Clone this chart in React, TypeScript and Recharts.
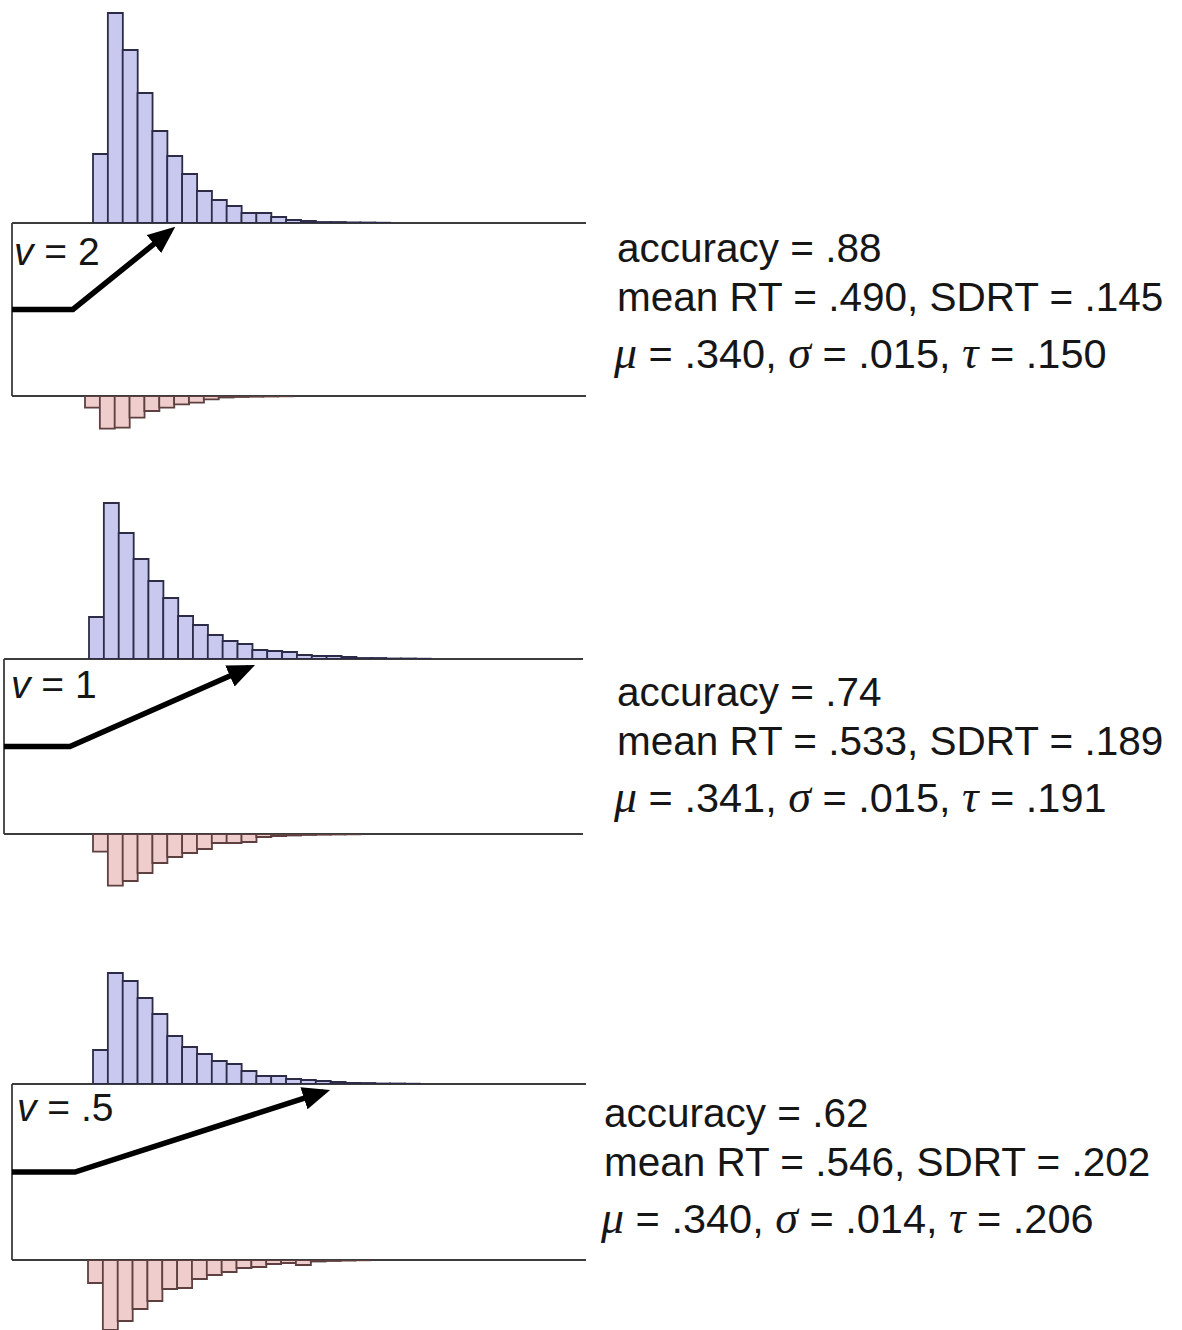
import React from 'react';
import { BarChart, Bar, XAxis, YAxis, LineChart, Line, ReferenceLine } from 'recharts';

// RT histograms, bin heights (upper = correct, lower = error)
const upper1 = [69, 210, 173, 130, 92, 67, 49, 32, 23, 17, 10, 10, 6, 3, 2, 1, 1, 0.5, 0.5, 0.3];
const lower1 = [11.7, 32.7, 31.7, 21.7, 15, 11.7, 8.3, 6.7, 3.3, 1.5, 1, 0.7, 0.5, 0.3];
const upper2 = [42, 156, 126, 100, 78, 61, 43, 34, 24, 18, 15, 9, 8, 7, 4, 3, 3, 2, 1, 1, 0.5, 0.5, 0.3];
const lower2 = [17.7, 51.7, 47, 39, 29, 23, 19, 15, 9, 9, 8, 3, 2, 1.5, 1, 0.7, 0.5, 0.3];
const upper3 = [34, 111, 103, 86, 70, 48, 37, 30, 23, 20, 13, 8, 8, 5, 4, 3, 2, 1, 1, 0.5, 0.5, 0.3];
const lower3 = [23, 70, 61, 49, 41, 29, 28, 19, 15, 12, 8, 7, 4, 3, 5, 1.5, 1, 0.5, 0.3];

const drift = ['2', '1', '.5'];
const accuracy = ['.88', '.74', '.62'];
const meanRT = ['.490', '.533', '.546'];
const sdRT = ['.145', '.189', '.202'];
const mu = ['.340', '.341', '.340'];
const sigma = ['.015', '.015', '.014'];
const tau = ['.150', '.191', '.206'];

// drift arrow: bend (non-decision, in bins), end point (bins, fraction of boundary)
const arrowBend = [4.1, 4.44, 4.24];
const arrowEndX = [10.65, 16.5, 21.0];
const arrowEndY = [0.954, 0.951, 0.955];

const BIN_W = 14.85;
const UP_FILL = '#c9c9ef';
const UP_STROKE = '#2c2c48';
const LOW_FILL = '#f0cdcd';
const LOW_STROKE = '#5e4040';
const BOX = '#3c3c3c';
const SANS = '"Liberation Sans", Arial, sans-serif';
const SERIF = '"Liberation Serif", "Times New Roman", serif';

const layout = [
  { boxLeft: 12, boxRight: 586, boxTop: 223, boxBottom: 396, upStart: 93, lowStart: 85, upMax: 215, lowMax: 40, textX: 617, textY: 262, labX: 14, labY: 265 },
  { boxLeft: 4, boxRight: 583, boxTop: 659, boxBottom: 834, upStart: 89.3, lowStart: 92.7, upMax: 165, lowMax: 60, textX: 617, textY: 706, labX: 11, labY: 698 },
  { boxLeft: 12, boxRight: 586, boxTop: 1084, boxBottom: 1260, upStart: 93, lowStart: 87.7, upMax: 120, lowMax: 75, textX: 604, textY: 1127, labX: 17, labY: 1121 },
];

const uppers = [upper1, upper2, upper3];
const lowers = [lower1, lower2, lower3];

interface HistProps {
  values: number[];
  left: number;
  base: number;
  maxVal: number;
  down?: boolean;
  fill: string;
  stroke: string;
}

const Hist: React.FC<HistProps> = ({ values, left, base, maxVal, down = false, fill, stroke }) => {
  const data = values.map((n, i) => ({ bin: i, n }));
  const pad = 3;
  const w = values.length * BIN_W + pad * 2;
  const h = maxVal + pad;
  return (
    <div style={{ position: 'absolute', left: left - pad, top: down ? base : base - h }}>
      <BarChart
        width={w}
        height={h}
        data={data}
        margin={{ top: down ? 0 : pad, bottom: down ? pad : 0, left: pad, right: pad }}
        barCategoryGap={0}
        barGap={0}
      >
        <XAxis dataKey="bin" hide />
        <YAxis hide domain={[0, maxVal]} reversed={down} />
        <Bar dataKey="n" fill={fill} stroke={stroke} strokeWidth={1.8} isAnimationActive={false} />
      </BarChart>
    </div>
  );
};

interface BoxProps {
  idx: number;
}

const DriftBox: React.FC<BoxProps> = ({ idx }) => {
  const L = layout[idx];
  const pad = 4;
  const xMax = (L.boxRight - L.boxLeft) / BIN_W;
  const pts = [
    { x: 0, y: 0.5 },
    { x: arrowBend[idx], y: 0.5 },
    { x: arrowEndX[idx], y: arrowEndY[idx] },
  ];
  const id = `arrowHead${idx}`;
  return (
    <div style={{ position: 'absolute', left: L.boxLeft - pad, top: L.boxTop - pad }}>
      <LineChart
        width={L.boxRight - L.boxLeft + pad * 2}
        height={L.boxBottom - L.boxTop + pad * 2}
        data={pts}
        margin={{ top: pad, bottom: pad, left: pad, right: pad }}
      >
        <defs>
          <marker id={id} markerWidth={5} markerHeight={4.2} refX={3.8} refY={2.1} orient="auto">
            <path d="M0,0 L5,2.1 L0,4.2 z" fill="#000" />
          </marker>
        </defs>
        <XAxis type="number" dataKey="x" domain={[0, xMax]} hide />
        <YAxis type="number" domain={[0, 1]} hide />
        <ReferenceLine y={1} stroke={BOX} strokeWidth={1.8} />
        <ReferenceLine y={0} stroke={BOX} strokeWidth={1.8} />
        <ReferenceLine x={0} stroke={BOX} strokeWidth={1.8} />
        <Line
          type="linear"
          dataKey="y"
          stroke="#000"
          strokeWidth={5.5}
          dot={false}
          isAnimationActive={false}
          markerEnd={`url(#${id})`}
        />
      </LineChart>
    </div>
  );
};

export default function App() {
  return (
    <div style={{ position: 'absolute', left: 0, top: 0, width: 1182, height: 1330, overflow: 'hidden', background: '#fff' }}>
      {layout.map((L, i) => (
        <React.Fragment key={i}>
          <DriftBox idx={i} />
          <Hist values={uppers[i]} left={L.upStart} base={L.boxTop} maxVal={L.upMax} fill={UP_FILL} stroke={UP_STROKE} />
          <Hist values={lowers[i]} left={L.lowStart} base={L.boxBottom} maxVal={L.lowMax} down fill={LOW_FILL} stroke={LOW_STROKE} />
        </React.Fragment>
      ))}
      <svg width={1182} height={1330} style={{ position: 'absolute', left: 0, top: 0, pointerEvents: 'none' }}>
        {layout.map((L, i) => (
          <g key={i} fill="#161616" fontFamily={SANS} fontSize={40.5}>
            <text x={L.labX} y={L.labY} fontSize={39}>
              <tspan fontStyle="italic">v</tspan>
              {` = ${drift[i]}`}
            </text>
            <text x={L.textX} y={L.textY}>{`accuracy = ${accuracy[i]}`}</text>
            <text x={L.textX} y={L.textY + 49}>{`mean RT = ${meanRT[i]}, SDRT = ${sdRT[i]}`}</text>
            <text x={L.textX - 3} y={L.textY + 106} fontSize={41.5}>
              <tspan fontStyle="italic" fontFamily={SERIF} fontSize={46}>μ</tspan>
              {` = ${mu[i]}, `}
              <tspan fontStyle="italic" fontFamily={SERIF} fontSize={46}>σ</tspan>
              {` = ${sigma[i]}, `}
              <tspan fontStyle="italic" fontFamily={SERIF} fontSize={46}>τ</tspan>
              {` = ${tau[i]}`}
            </text>
          </g>
        ))}
      </svg>
    </div>
  );
}
